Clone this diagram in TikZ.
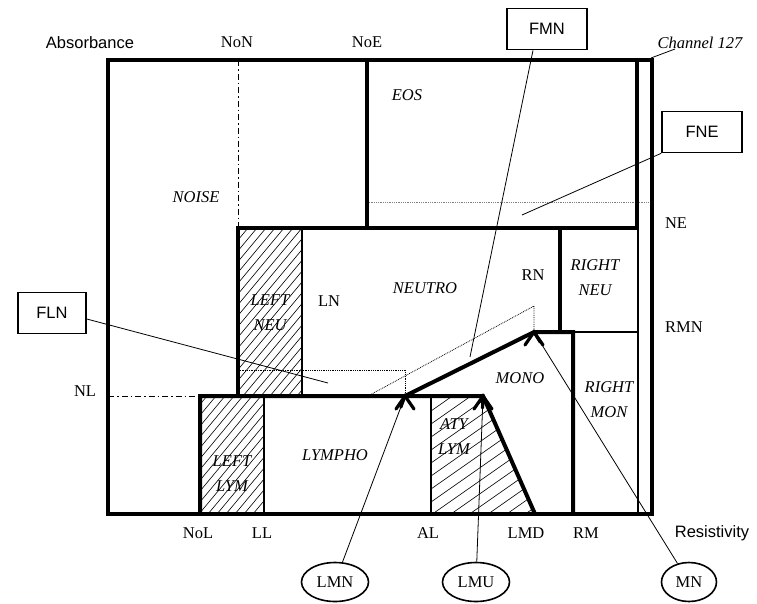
\documentclass[tikz,border=0pt]{standalone}
\usepackage{fontspec}
\setmainfont{Liberation Serif}
\setsansfont{Liberation Sans}
\usetikzlibrary{shapes.geometric,calc}
\tikzstyle{boxf}=[draw,line width=1.6pt,minimum width=80pt,minimum height=41pt,inner sep=0pt,font=\sffamily\fontsize{16.5}{19}\selectfont]
\tikzstyle{ovalm}=[draw,ellipse,line width=1.6pt,minimum height=39pt,inner sep=0pt,font=\fontsize{16.5}{19}\selectfont]
\tikzstyle{regn}=[inner sep=0pt,align=center,font=\itshape\fontsize{16.5}{25}\selectfont]
\tikzstyle{tick}=[inner sep=0pt,font=\fontsize{16.5}{19}\selectfont]
\tikzstyle{axisl}=[inner sep=0pt,font=\sffamily\fontsize{16.5}{19}\selectfont]
\tikzstyle{bold}=[line width=4pt]
\tikzstyle{fine}=[line width=1.4pt]
\tikzstyle{lead}=[line width=0.8pt]
\tikzstyle{hatch}=[line width=0.6pt]
\tikzstyle{dashdot}=[line width=0.8pt,dash pattern=on 6pt off 3pt on 1.5pt off 3pt]
\tikzstyle{barb}=[line width=3.2pt,line cap=round,line join=miter]

\begin{document}
\begin{tikzpicture}[x=1pt,y=-1pt]
    \useasboundingbox (0,0) rectangle (757,603);
    % hatched regions
    \begin{scope}
      \clip (238,228) rectangle (302,396);
      \foreach \i in {90,99,...,310} \draw[hatch] (\i,396) -- ++(140,-168);
    \end{scope}
    \begin{scope}
      \clip (200,396) rectangle (264,514);
      \foreach \i in {100,109,...,270} \draw[hatch] (\i,514) -- ++(98,-118);
    \end{scope}
    \begin{scope}
      \clip (431,396) -- (483,396) -- (535,514) -- (431,514) -- cycle;
      \foreach \i in {398,411,...,600} \draw[hatch] (431,\i) -- ++(150,-105);
    \end{scope}

    % dotted and dash-dotted guides
    \draw[lead,densely dotted,gray] (367,202) -- (651,202);
    \draw[lead,densely dotted] (238,370) -- (405,370) -- (405,396);
    \draw[lead,densely dotted] (368,396) -- (534,306) -- (534,330);
    \draw[dashdot] (238,60) -- (238,228);
    \draw[dashdot] (108,396) -- (200,396);

    % thin borders
    \draw[fine] (638,60) -- (638,514);
    \draw[fine] (302,228) -- (302,396);
    \draw[fine] (264,396) -- (264,514);
    \draw[fine] (431,396) -- (431,514);
    \draw[fine] (573,332) -- (638,332);

    % thick borders
    \draw[bold] (108,60) rectangle (652,514);
    \draw[bold] (367,60) -- (367,228);
    \draw[bold] (637,60) -- (637,228) -- (238,228) -- (238,396);
    \draw[bold] (200,514) -- (200,396) -- (483,396) -- (535,514);
    \draw[bold] (405,396) -- (534,332) -- (573,332) -- (573,514);
    \draw[bold] (560,228) -- (560,332);

    % region names
    \node[regn] (noise) at (196,197) {NOISE};
    \node[regn] (eos) at (407,95) {EOS};
    \node[regn] (neutro) at (425,288) {NEUTRO};
    \node[regn] (leftneu) at (270,313) {LEFT\\NEU};
    \node[regn] (rightneu) at (595,278) {RIGHT\\NEU};
    \node[regn] (mono) at (520,378) {MONO};
    \node[regn] (rightmon) at (609,400) {RIGHT\\MON};
    \node[regn] (lympho) at (335,455) {LYMPHO};
    \node[regn] (leftlym) at (232,474) {LEFT\\LYM};
    \node[regn] (atylym) at (454,437) {ATY\\LYM};

    % threshold names
    \node[tick] (non) at (237,42) {NoN};
    \node[tick] (noe) at (367,42) {NoE};
    \node[tick] (ln) at (329,301) {LN};
    \node[tick] (rn) at (533,275) {RN};
    \node[tick] (ne) at (676,223) {NE};
    \node[tick] (rmn) at (684,327) {RMN};
    \node[tick] (nl) at (85,391) {NL};
    \node[tick] (nol) at (198,533) {NoL};
    \node[tick] (ll) at (262,533) {LL};
    \node[tick] (al) at (428,533) {AL};
    \node[tick] (lmd) at (526,533) {LMD};
    \node[tick] (rm) at (586,533) {RM};
    \node[tick,font=\itshape\fontsize{16.5}{19}\selectfont] (ch) at (700,43) {Channel 127};
    \node[axisl] (absorb) at (90,43) {Absorbance};
    \node[axisl] (resist) at (712,533) {Resistivity};

    % flags and markers
    \node[boxf] (fmn) at (547,29) {FMN};
    \node[boxf] (fne) at (702,132) {FNE};
    \node[boxf,minimum width=68pt] (fln) at (52,313) {FLN};
    \node[ovalm,minimum width=67pt] (lmn) at (335,582) {LMN};
    \node[ovalm,minimum width=67pt] (lmu) at (476,582) {LMU};
    \node[ovalm,minimum width=55pt] (mn) at (689,582) {MN};

    \coordinate (corner) at (651,58);
    \coordinate (chend) at (675,49);
    \coordinate (pfmn) at (470,357);
    \coordinate (pfne) at (522,215);
    \coordinate (pfln) at (328,383);
    \coordinate (plmn) at (405,396);
    \coordinate (plmu) at (483,396);
    \coordinate (pmn) at (534,332);

    \draw[lead] (corner) -- (chend);
    \draw[lead] ([xshift=-14pt]fmn.south) -- (pfmn);
    \draw[lead] (fne.south west) -- (pfne);
    \draw[lead] ([yshift=-6pt]fln.east) -- (pfln);
    % markers with bold heads
    \foreach \from/\to in {lmn/plmn,lmu/plmu,mn/pmn}
    {
      \draw[lead] (\from) -- (\to);
      \draw[barb] ($(\to)!12pt!(\from)$) -- (\to);
      \draw[barb] ($(\to)+(-9,13)$) -- (\to) -- ($(\to)+(9,13)$);
    }
\end{tikzpicture}
\end{document}
